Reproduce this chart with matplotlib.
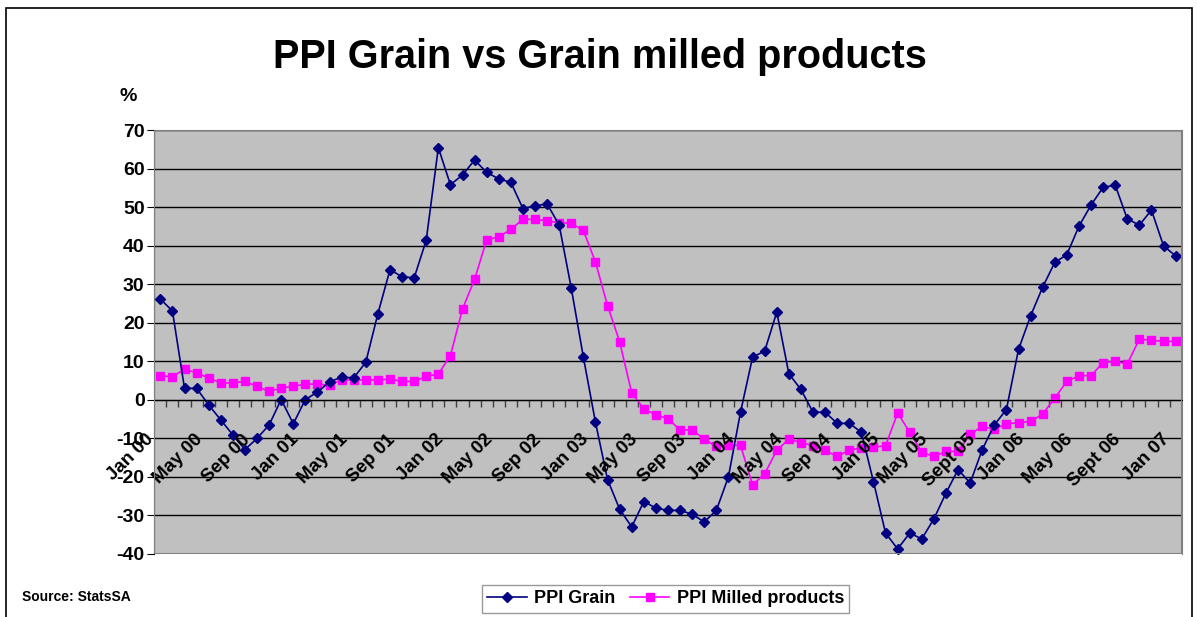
import numpy as np
import matplotlib.pyplot as plt
from matplotlib.patches import Rectangle
from matplotlib.transforms import ScaledTranslation

plt.rcParams['font.family'] = ['Liberation Sans', 'DejaVu Sans']
plt.rcParams['font.weight'] = 'bold'
plt.rcParams['axes.unicode_minus'] = False

# monthly values, Jan 00 .. Jan 07
ppi_grain = [26.1, 23.0, 2.9, 2.9, -1.4, -5.3, -9.2, -13.0, -10.1, -6.6,
             0.0, -6.3, 0.0, 1.9, 4.6, 5.8, 5.6, 9.7, 22.3, 33.7,
             31.9, 31.6, 41.4, 65.4, 55.8, 58.3, 62.2, 59.0, 57.3, 56.4,
             49.6, 50.3, 50.8, 45.3, 28.9, 11.0, -5.9, -20.8, -28.5, -33.1,
             -26.5, -28.2, -28.8, -28.8, -29.8, -31.8, -28.8, -20.1, -3.3, 11.0,
             12.6, 22.7, 6.7, 2.6, -3.3, -3.3, -6.2, -6.2, -8.5, -21.3,
             -34.7, -38.8, -34.7, -36.2, -31.0, -24.3, -18.2, -21.7, -13.0, -6.6,
             -2.6, 13.0, 21.7, 29.2, 35.6, 37.6, 45.0, 50.5, 55.1, 55.7,
             46.9, 45.3, 49.2, 39.9, 37.3]
ppi_milled = [6.2, 5.9, 7.9, 6.9, 5.6, 4.3, 4.3, 4.7, 3.4, 2.1,
              3.0, 3.4, 4.0, 4.0, 3.7, 5.1, 5.1, 5.1, 5.1, 5.3,
              4.7, 4.7, 6.0, 6.6, 11.4, 23.5, 31.2, 41.5, 42.2, 44.2,
              46.8, 46.8, 46.4, 45.9, 45.8, 43.9, 35.7, 24.4, 15.0, 1.7,
              -2.4, -4.0, -5.0, -7.9, -7.9, -10.3, -12.2, -11.9, -11.9, -22.2,
              -19.3, -13.2, -10.3, -11.2, -12.0, -13.2, -14.8, -13.1, -12.6, -12.4,
              -12.0, -3.5, -8.5, -13.7, -14.8, -13.5, -13.5, -9.0, -7.0, -7.7,
              -6.3, -6.0, -5.7, -3.8, 0.4, 4.7, 6.2, 6.2, 9.6, 9.9,
              9.2, 15.7, 15.4, 15.1, 15.1]
tick_labels = ['Jan 00', 'May 00', 'Sep 00', 'Jan 01', 'May 01', 'Sep 01',
               'Jan 02', 'May 02', 'Sep 02', 'Jan 03', 'May 03', 'Sep 03',
               'Jan 04', 'May 04', 'Sep 04', 'Jan 05', 'May 05', 'Sept 05',
               'Jan 06', 'May 06', 'Sept 06', 'Jan 07']

n = len(ppi_grain)
x = np.arange(n)

fig = plt.figure(figsize=(11.97, 6.17), dpi=100)
ax = fig.add_axes([0.1289, 0.1029, 0.8583, 0.6864])
ax.set_facecolor('#C0C0C0')

# move the x axis to zero first (this resets the ticks)
ax.spines['bottom'].set_position(('data', 0))
ax.spines['bottom'].set_color('black')
ax.spines['left'].set_color('black')
ax.spines['top'].set_color('#808080')
ax.spines['right'].set_color('#808080')

ax.plot(x, ppi_grain, color='#000080', marker='D', markersize=5, lw=1.2,
        label='PPI Grain', zorder=2.2)
ax.plot(x, ppi_milled, color='#FF00FF', marker='s', markersize=6, lw=1.2,
        label='PPI Milled products', zorder=2.1)

ax.set_ylim(-40, 70)
ax.set_yticks(np.arange(-40, 71, 10))
for v in ax.get_yticks():
    ax.axhline(v, color='black', lw=1, zorder=1)

# tick marks on category boundaries
ax.set_xticks(np.arange(0.5, n - 1, 1))
ax.set_xticklabels([])
ax.set_xlim(-0.5, n - 0.5)
ax.tick_params(axis='x', direction='out', length=5, width=1, color='#404040')

# month labels every 4 months, rotated, just under the zero line and
# slightly left of their month, drawn over the lines
lab_shift = ScaledTranslation(-0.09, -0.375, fig.dpi_scale_trans)
for pos, lab in zip(x[::4], tick_labels):
    ax.text(pos, 0, lab, transform=ax.transData + lab_shift, rotation=45,
            rotation_mode='anchor', ha='right', va='center', fontsize=13.5,
            fontweight='bold', zorder=3, clip_on=False)

ax.tick_params(axis='y', direction='out', length=5, pad=2, labelsize=14)
for lab in ax.get_yticklabels():
    lab.set_fontweight('bold')

ax.add_patch(Rectangle((0, 0), 1, 1, transform=ax.transAxes, fill=False,
                       edgecolor='#808080', lw=1.5, zorder=4))

fig.text(0.501, 0.908, 'PPI Grain vs Grain milled products', ha='center',
         va='center', fontsize=28.5, fontweight='bold')
fig.text(0.107, 0.843, '%', ha='center', va='center', fontsize=14, fontweight='bold')
fig.text(0.018, 0.032, 'Source: StatsSA', ha='left', va='center', fontsize=10,
         fontweight='bold')

leg = fig.legend(loc='upper center', bbox_to_anchor=(0.556, 0.052), ncol=2,
                 frameon=True, fancybox=False, edgecolor='#808080',
                 prop={'size': 13, 'weight': 'bold'}, handlelength=2.2,
                 columnspacing=0.8, handletextpad=0.4, borderpad=0.3,
                 borderaxespad=0)
leg.get_frame().set_linewidth(1)

fig.patches.append(Rectangle((0.005, -0.1), 0.991, 1.087, transform=fig.transFigure,
                             fill=False, edgecolor='black', lw=1.2))

fig.savefig('out.png', dpi=100)
